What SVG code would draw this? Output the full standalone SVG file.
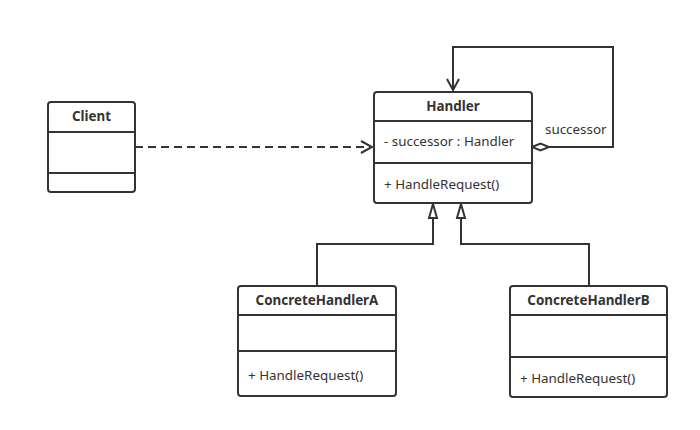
<svg xmlns="http://www.w3.org/2000/svg" width="700" height="430" viewBox="0 0 700 430">
<style>
.box{fill:#fff;stroke:#333;stroke-width:2}
.ln{stroke:#333;stroke-width:2;fill:none}
.t{font-family:"Noto Sans","Open Sans",sans-serif;font-size:13.4px;fill:#333}
.b{font-weight:bold;text-anchor:middle}
</style>
<defs>
<marker id="open" markerWidth="14" markerHeight="14" refX="12" refY="7" orient="auto" markerUnits="userSpaceOnUse">
<path d="M1,1 L12,7 L1,13" fill="none" stroke="#333" stroke-width="2"/>
</marker>
</defs>
<g id="connectors">
<line class="ln" x1="135" y1="147" x2="372" y2="147" stroke-dasharray="8,5" marker-end="url(#open)"/>
<path class="ln" d="M549,147 L613,147 L613,47 L453,47 L453,90" marker-end="url(#open)"/>
<path d="M532,147 L540.5,143.5 L549,147 L540.5,150.5 Z" fill="#fff" stroke="#333" stroke-width="2"/>
<text class="t" x="545" y="134">successor</text>
<path class="ln" d="M317,286 L317,244 L433,244 L433,218"/>
<path d="M433,204 L437,218 L429,218 Z" fill="#fff" stroke="#333" stroke-width="2"/>
<path class="ln" d="M589,286 L589,244 L461,244 L461,218"/>
<path d="M461,204 L465,218 L457,218 Z" fill="#fff" stroke="#333" stroke-width="2"/>
</g>
<g id="client">
<rect class="box" x="48" y="102" width="87" height="90" rx="3"/>
<line class="ln" x1="48" y1="132" x2="135" y2="132"/>
<line class="ln" x1="48" y1="173" x2="135" y2="173"/>
<text class="t b" x="91.5" y="121">Client</text>
</g>
<g id="handler">
<rect class="box" x="374" y="92" width="158" height="111" rx="3"/>
<line class="ln" x1="374" y1="121" x2="532" y2="121"/>
<line class="ln" x1="374" y1="163" x2="532" y2="163"/>
<text class="t b" x="453" y="111">Handler</text>
<text class="t" x="384" y="146">- successor : Handler</text>
<text class="t" x="384" y="189">+ HandleRequest()</text>
</g>
<g id="concreteA">
<rect class="box" x="238" y="286" width="158" height="110" rx="3"/>
<line class="ln" x1="238" y1="315" x2="396" y2="315"/>
<line class="ln" x1="238" y1="351" x2="396" y2="351"/>
<text class="t b" x="317" y="305">ConcreteHandlerA</text>
<text class="t" x="248" y="380">+ HandleRequest()</text>
</g>
<g id="concreteB">
<rect class="box" x="510" y="286" width="157" height="111" rx="3"/>
<line class="ln" x1="510" y1="315" x2="667" y2="315"/>
<line class="ln" x1="510" y1="357" x2="667" y2="357"/>
<text class="t b" x="588.5" y="305">ConcreteHandlerB</text>
<text class="t" x="520" y="383">+ HandleRequest()</text>
</g>
</svg>
